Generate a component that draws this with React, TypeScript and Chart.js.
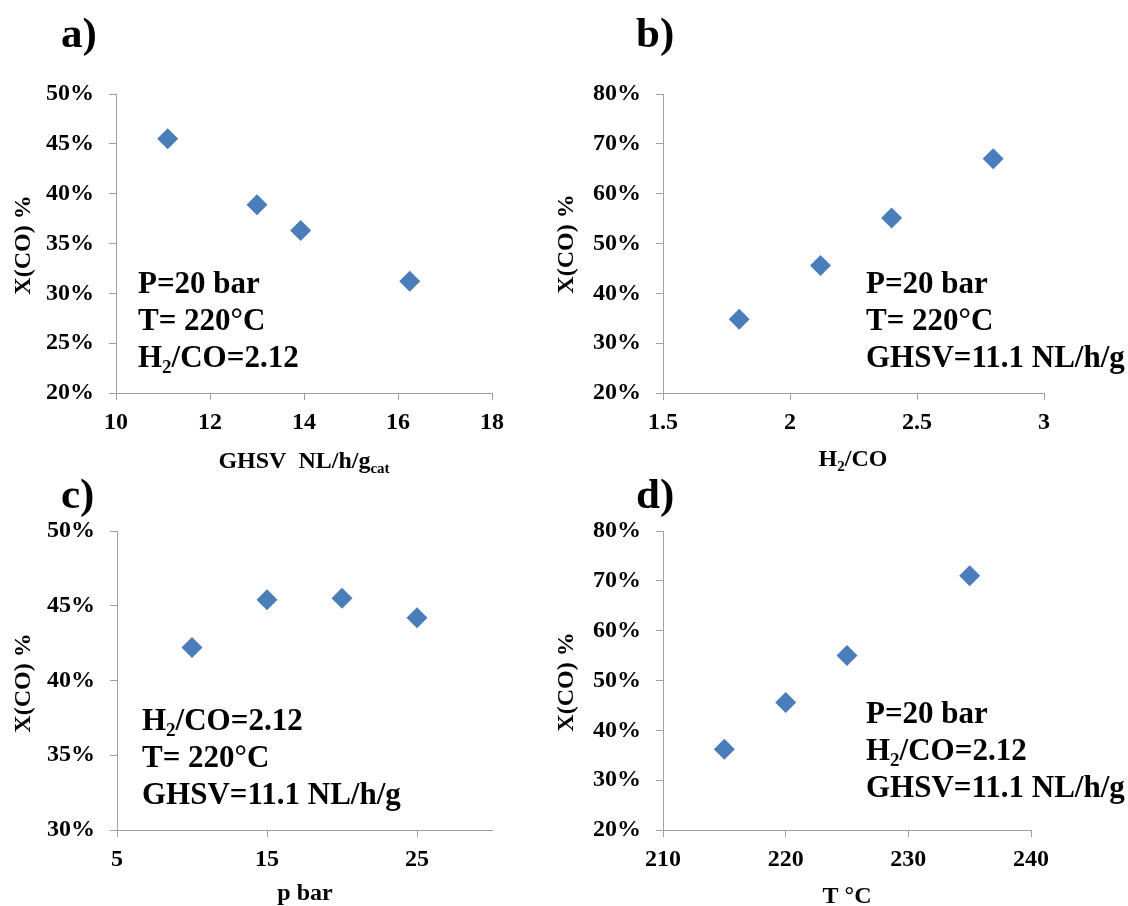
import React, { useEffect, useRef } from 'react';
import { Chart, registerables } from 'chart.js';

Chart.register(...registerables);

const W = 1128;
const H = 906;
const FONT = '"Liberation Serif", "Times New Roman", serif';
const BLUE = '#4a7ebb';
const AXIS = '#a0a0a0';

// a) conversion vs GHSV
const ghsv = [11.1, 13.0, 13.93, 16.25];
const convA = [45.5, 38.9, 36.3, 31.2];
const xTicksA = [10, 12, 14, 16, 18];
const yTicksA = [20, 25, 30, 35, 40, 45, 50];

// b) conversion vs H2/CO
const h2co = [1.8, 2.12, 2.4, 2.8];
const convB = [34.8, 45.6, 55.1, 67.0];
const xTicksB = [1.5, 2, 2.5, 3];
const yTicksB = [20, 30, 40, 50, 60, 70, 80];

// c) conversion vs pressure
const pressure = [10, 15, 20, 25];
const convC = [42.2, 45.4, 45.5, 44.2];
const xTicksC = [5, 15, 25];
const yTicksC = [30, 35, 40, 45, 50];

// d) conversion vs temperature
const temperature = [215, 220, 225, 235];
const convD = [36.2, 45.6, 55.0, 71.0];
const xTicksD = [210, 220, 230, 240];
const yTicksD = [20, 30, 40, 50, 60, 70, 80];

type Seg = [string, 'n' | 'sub'];
type TextItem = { segs: Seg[]; x: number; y: number; size: number; align: 'left' | 'center'; rotate?: boolean };

const Y_TITLE: Seg[] = [['X(CO) %', 'n']];
const P20: Seg[] = [['P=20 bar', 'n']];
const T220: Seg[] = [['T= 220°C', 'n']];
const RATIO: Seg[] = [['H', 'n'], ['2', 'sub'], ['/CO=2.12', 'n']];
const GHSV111: Seg[] = [['GHSV=11.1 NL/h/g', 'n']];

const NOTE = 31;
const TITLE = 24;
const LABEL = 43;

type PanelCfg = {
  xs: number[];
  ys: number[];
  xTicks: number[];
  xMax: number;
  yTicks: number[];
  area: { l: number; t: number; r: number; b: number };
  texts: TextItem[];
};

const notes = (lines: Seg[][], x: number, y0: number, step: number): TextItem[] =>
  lines.map((segs, i) => ({ segs, x, y: y0 + i * step, size: NOTE, align: 'left' as const }));

const panels: PanelCfg[] = [
  {
    xs: ghsv, ys: convA, xTicks: xTicksA, xMax: 18, yTicks: yTicksA,
    area: { l: 116, t: 94, r: 492, b: 393 },
    texts: [
      { segs: [['a)', 'n']], x: 61, y: 47, size: LABEL, align: 'left' },
      { segs: [['GHSV  NL/h/g', 'n'], ['cat', 'sub']], x: 304, y: 468, size: TITLE, align: 'center' },
      { segs: Y_TITLE, x: 24, y: 245, size: TITLE, align: 'center', rotate: true },
      ...notes([P20, T220, RATIO], 138, 293, 37),
    ],
  },
  {
    xs: h2co, ys: convB, xTicks: xTicksB, xMax: 3, yTicks: yTicksB,
    area: { l: 663, t: 94, r: 1044, b: 393 },
    texts: [
      { segs: [['b)', 'n']], x: 636, y: 47, size: LABEL, align: 'left' },
      { segs: [['H', 'n'], ['2', 'sub'], ['/CO', 'n']], x: 853, y: 466, size: TITLE, align: 'center' },
      { segs: Y_TITLE, x: 567, y: 244, size: TITLE, align: 'center', rotate: true },
      ...notes([P20, T220, GHSV111], 866, 293, 37),
    ],
  },
  {
    xs: pressure, ys: convC, xTicks: xTicksC, xMax: 30, yTicks: yTicksC,
    area: { l: 117, t: 531, r: 492, b: 830 },
    texts: [
      { segs: [['c)', 'n']], x: 61, y: 508, size: LABEL, align: 'left' },
      { segs: [['p bar', 'n']], x: 305, y: 900, size: TITLE, align: 'center' },
      { segs: Y_TITLE, x: 24, y: 683, size: TITLE, align: 'center', rotate: true },
      ...notes([RATIO, T220, GHSV111], 142, 730, 37),
    ],
  },
  {
    xs: temperature, ys: convD, xTicks: xTicksD, xMax: 240, yTicks: yTicksD,
    area: { l: 663, t: 531, r: 1031, b: 830 },
    texts: [
      { segs: [['d)', 'n']], x: 636, y: 508, size: LABEL, align: 'left' },
      { segs: [['T °C', 'n']], x: 847, y: 903, size: TITLE, align: 'center' },
      { segs: Y_TITLE, x: 567, y: 682, size: TITLE, align: 'center', rotate: true },
      ...notes([P20, RATIO, GHSV111], 866, 723, 37),
    ],
  },
];

function drawRich(ctx: CanvasRenderingContext2D, item: TextItem) {
  const { segs, x, y, size, align, rotate } = item;
  const subSize = Math.round(size * 0.62);
  const fontN = `bold ${size}px ${FONT}`;
  const fontS = `bold ${subSize}px ${FONT}`;
  const widths: number[] = [];
  let total = 0;
  for (const [t, k] of segs) {
    ctx.font = k === 'sub' ? fontS : fontN;
    const w = ctx.measureText(t).width;
    widths.push(w);
    total += w;
  }
  ctx.save();
  ctx.fillStyle = '#000';
  ctx.textAlign = 'left';
  ctx.textBaseline = rotate ? 'middle' : 'alphabetic';
  let cx: number;
  let by: number;
  if (rotate) {
    ctx.translate(x, y);
    ctx.rotate(-Math.PI / 2);
    cx = -total / 2;
    by = 0;
  } else {
    cx = align === 'center' ? x - total / 2 : x;
    by = y;
  }
  segs.forEach(([t, k], i) => {
    ctx.font = k === 'sub' ? fontS : fontN;
    ctx.fillText(t, cx, k === 'sub' ? by + size * 0.2 : by);
    cx += widths[i];
  });
  ctx.restore();
}

const YW = 100;
const XH = 40;

function Panel({ cfg }: { cfg: PanelCfg }) {
  const ref = useRef<HTMLCanvasElement>(null);
  useEffect(() => {
    const { area } = cfg;
    const tickFont = { family: FONT, size: 24, weight: 'bold' as const };
    const chart = new Chart(ref.current as HTMLCanvasElement, {
      type: 'scatter',
      data: {
        datasets: [
          {
            data: cfg.xs.map((x, i) => ({ x, y: cfg.ys[i] })),
            pointStyle: 'rectRot',
            pointRadius: 10.5,
            pointHoverRadius: 10.5,
            backgroundColor: BLUE,
            borderColor: BLUE,
            borderWidth: 0,
          },
        ],
      },
      options: {
        responsive: false,
        animation: false,
        events: [],
        layout: {
          padding: {
            left: area.l - YW,
            top: area.t,
            right: W - area.r,
            bottom: H - area.b - XH,
          },
        },
        plugins: { legend: { display: false }, tooltip: { enabled: false } },
        scales: {
          x: {
            type: 'linear',
            min: cfg.xTicks[0],
            max: cfg.xMax,
            afterBuildTicks: (s: any) => {
              s.ticks = cfg.xTicks.map((v) => ({ value: v }));
            },
            afterFit: (s: any) => {
              s.height = XH;
            },
            grid: { display: true, drawOnChartArea: false, drawTicks: true, tickLength: 7, color: AXIS, lineWidth: 1 },
            border: { display: true, color: AXIS, width: 1 },
            ticks: {
              font: tickFont,
              color: '#000',
              padding: 8,
              maxRotation: 0,
              autoSkip: false,
              callback: (v: any) => String(v),
            },
          },
          y: {
            type: 'linear',
            min: cfg.yTicks[0],
            max: cfg.yTicks[cfg.yTicks.length - 1],
            afterBuildTicks: (s: any) => {
              s.ticks = cfg.yTicks.map((v) => ({ value: v }));
            },
            afterFit: (s: any) => {
              s.width = YW;
            },
            grid: { display: true, drawOnChartArea: false, drawTicks: true, tickLength: 7, color: AXIS, lineWidth: 1 },
            border: { display: true, color: AXIS, width: 1 },
            ticks: {
              font: tickFont,
              color: '#000',
              padding: 15,
              autoSkip: false,
              callback: (v: any) => `${v}%`,
            },
          },
        },
      },
      plugins: [
        {
          id: 'panelTexts',
          afterDraw: (c: any) => {
            const ctx = c.ctx as CanvasRenderingContext2D;
            cfg.texts.forEach((t) => drawRich(ctx, t));
          },
        },
      ],
    });
    return () => chart.destroy();
  }, [cfg]);
  return <canvas ref={ref} width={W} height={H} style={{ position: 'absolute', left: 0, top: 0 }} />;
}

export default function App() {
  return (
    <div style={{ position: 'fixed', left: 0, top: 0, width: W, height: H, background: '#fff' }}>
      {panels.map((p, i) => (
        <Panel key={i} cfg={p} />
      ))}
    </div>
  );
}
